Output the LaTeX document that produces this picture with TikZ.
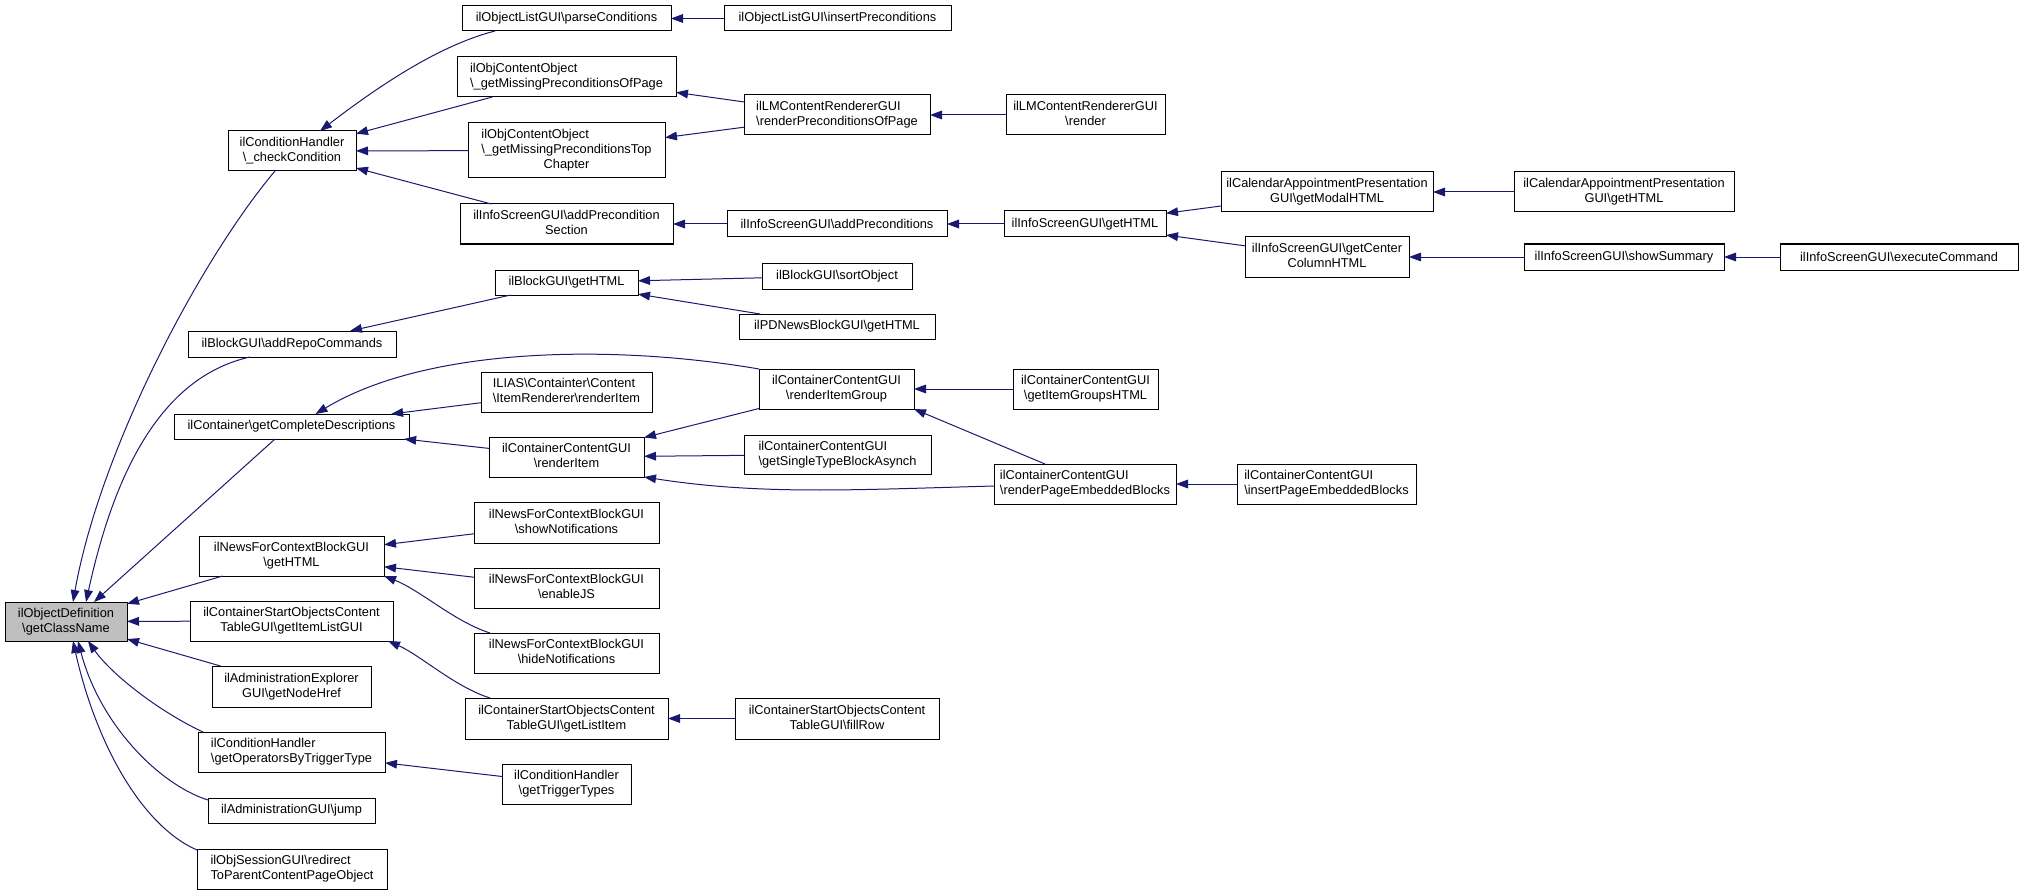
\documentclass[tikz,border=0pt]{standalone}
\usepackage{fontspec}
\setmainfont{Liberation Sans}
\usetikzlibrary{calc,arrows.meta}
\definecolor{edgeblue}{HTML}{191970}
\definecolor{rootgray}{HTML}{BFBFBF}
\newcommand{\bsl}{\textbackslash}
\newcommand{\lastc}[1]{\multicolumn{1}{@{}c@{}}{#1}}
\newcommand{\twol}[2]{\begin{tabular}{@{}l@{}}#1\\\lastc{#2}\end{tabular}}
\newcommand{\threel}[3]{\begin{tabular}{@{}l@{}}#1\\#2\\\lastc{#3}\end{tabular}}
\newcommand{\dxbox}[7][]{%
  \pgfmathsetmacro\bxcx{(#3+#5)/2}\pgfmathsetmacro\bxcy{(#4+#6)/2}%
  \pgfmathsetmacro\bxw{(#5-#3)*0.75}\pgfmathsetmacro\bxh{(#6-#4)*0.75}%
  \node[nd,#1,minimum width=\bxw pt,minimum height=\bxh pt] (#2) at (\bxcx,\bxcy) {#7};}
\begin{document}
\begin{tikzpicture}[x=0.75pt,y=-0.75pt,
  nd/.style={draw=black,fill=white,line width=0.75pt,inner sep=0pt,outer sep=0pt,
    font=\fontsize{9.6}{11.25}\selectfont},
  rootnd/.style={fill=rootgray},
  edge/.style={draw=edgeblue,line width=0.75pt,-{Triangle[length=9pt,width=6.5pt]}}]
\useasboundingbox (0,0) rectangle (2021,895);
% column 1
\dxbox[rootnd]{gcn}{5}{602}{127}{641}{\twol{ilObjectDefinition}{\bsl getClassName}}
% column 2
\dxbox{cc}{228}{131}{356}{171}{\twol{ilConditionHandler}{\bsl\_checkCondition}}
\dxbox{arc}{188}{331}{396}{357}{ilBlockGUI\bsl addRepoCommands}
\dxbox{gcd}{174}{414}{409}{439}{ilContainer\bsl getCompleteDescriptions}
\dxbox{nfc}{199}{536}{384}{576}{\twol{ilNewsForContextBlockGUI}{\bsl getHTML}}
\dxbox{gil}{190}{601}{393}{641}{\twol{ilContainerStartObjectsContent}{TableGUI\bsl getItemListGUI}}
\dxbox{ae}{212}{666}{371}{707}{\twol{ilAdministrationExplorer}{GUI\bsl getNodeHref}}
\dxbox{gop}{198}{732}{385}{772}{\twol{ilConditionHandler}{\bsl getOperatorsByTriggerType}}
\dxbox{jmp}{208}{798}{375}{823}{ilAdministrationGUI\bsl jump}
\dxbox{osg}{197}{849}{387}{889}{\twol{ilObjSessionGUI\bsl redirect}{ToParentContentPageObject}}
% column 3
\dxbox{pc}{462}{6}{671}{31}{ilObjectListGUI\bsl parseConditions}
\dxbox{gmp}{457}{57}{676}{97}{\twol{ilObjContentObject}{\bsl\_getMissingPreconditionsOfPage}}
\dxbox{gtc}{468}{123}{665}{178}{\threel{ilObjContentObject}{\bsl\_getMissingPreconditionsTop}{Chapter}}
\dxbox{aps}{460}{204}{673}{244}{\twol{ilInfoScreenGUI\bsl addPrecondition}{Section}}
\dxbox{bgh}{495}{270}{638}{295}{ilBlockGUI\bsl getHTML}
\dxbox{ilr}{481}{372}{652}{412}{\twol{ILIAS\bsl Containter\bsl Content}{\bsl ItemRenderer\bsl renderItem}}
\dxbox{cri}{489}{437}{644}{477}{\twol{ilContainerContentGUI}{\bsl renderItem}}
\dxbox{sn}{474}{502}{659}{543}{\twol{ilNewsForContextBlockGUI}{\bsl showNotifications}}
\dxbox{ejs}{474}{568}{659}{608}{\twol{ilNewsForContextBlockGUI}{\bsl enableJS}}
\dxbox{hn}{474}{633}{659}{673}{\twol{ilNewsForContextBlockGUI}{\bsl hideNotifications}}
\dxbox{gli}{465}{698}{668}{739}{\twol{ilContainerStartObjectsContent}{TableGUI\bsl getListItem}}
\dxbox{gtt}{502}{764}{631}{804}{\twol{ilConditionHandler}{\bsl getTriggerTypes}}
% column 4
\dxbox{ip}{724}{6}{951}{31}{ilObjectListGUI\bsl insertPreconditions}
\dxbox{rpp}{744}{95}{930}{135}{\twol{ilLMContentRendererGUI}{\bsl renderPreconditionsOfPage}}
\dxbox{ap}{727}{211}{947}{237}{ilInfoScreenGUI\bsl addPreconditions}
\dxbox{so}{762}{263}{912}{289}{ilBlockGUI\bsl sortObject}
\dxbox{pdn}{739}{314}{935}{339}{ilPDNewsBlockGUI\bsl getHTML}
\dxbox{rig}{759}{369}{914}{409}{\twol{ilContainerContentGUI}{\bsl renderItemGroup}}
\dxbox{gstb}{744}{435}{931}{474}{\twol{ilContainerContentGUI}{\bsl getSingleTypeBlockAsynch}}
\dxbox{rpeb}{994}{464}{1176}{504}{\twol{ilContainerContentGUI}{\bsl renderPageEmbeddedBlocks}}
\dxbox{fr}{735}{698}{939}{739}{\twol{ilContainerStartObjectsContent}{TableGUI\bsl fillRow}}
% column 5+
\dxbox{lmr}{1006}{95}{1165}{135}{\twol{ilLMContentRendererGUI}{\bsl render}}
\dxbox{isg}{1004}{211}{1166}{237}{ilInfoScreenGUI\bsl getHTML}
\dxbox{gigh}{1013}{369}{1158}{409}{\twol{ilContainerContentGUI}{\bsl getItemGroupsHTML}}
\dxbox{ipeb}{1237}{464}{1416}{504}{\twol{ilContainerContentGUI}{\bsl insertPageEmbeddedBlocks}}
\dxbox{cmh}{1221}{172}{1433}{212}{\twol{ilCalendarAppointmentPresentation}{GUI\bsl getModalHTML}}
\dxbox{gcc}{1245}{237}{1409}{277}{\twol{ilInfoScreenGUI\bsl getCenter}{ColumnHTML}}
\dxbox{cgh}{1514}{172}{1734}{212}{\twol{ilCalendarAppointmentPresentation}{GUI\bsl getHTML}}
\dxbox{ss}{1524}{244}{1724}{270}{ilInfoScreenGUI\bsl showSummary}
\dxbox{ec}{1780}{244}{2018}{270}{ilInfoScreenGUI\bsl executeCommand}
% edges into root
\draw[edge] ($(cc.south)+(-17,0)$) .. controls (200,260) and (100,450) .. ($(gcn.north)+(7,0)$);
\draw[edge] ($(arc.south)+(-42,0)$) .. controls (170,375) and (118,455) .. ($(gcn.north)+(20,0)$);
\draw[edge] ($(gcd.south)+(-16.5,0)$) -- ($(gcn.north)+(28,0)$);
\draw[edge] (nfc) -- (gcn);
\draw[edge] (gil) -- (gcn);
\draw[edge] (ae) -- (gcn);
\draw[edge] ($(gop.north west)+(5,0)$) .. controls (160,712) and (112,675) .. ($(gcn.south)+(22,0)$);
\draw[edge] ($(jmp.north west)+(0,2)$) .. controls (160,785) and (100,725) .. ($(gcn.south)+(12,0)$);
\draw[edge] ($(osg.north west)+(0,1)$) .. controls (140,825) and (95,740) .. ($(gcn.south)+(7,0)$);
% edges into checkCondition
\draw[edge] ($(pc.south)+(-71.5,0)$) .. controls (440,45) and (380,85) .. ($(cc.north)+(28,0)$);
\draw[edge] (gmp) -- (cc);
\draw[edge] (gtc) -- (cc);
\draw[edge] (aps) -- (cc);
\draw[edge] (ip) -- (pc);
\draw[edge] (rpp) -- (gmp);
\draw[edge] (rpp) -- (gtc);
\draw[edge] (lmr) -- (rpp);
\draw[edge] (ap) -- (aps);
\draw[edge] (isg) -- (ap);
\draw[edge] (cmh) -- (isg);
\draw[edge] (gcc) -- (isg);
\draw[edge] (cgh) -- (cmh);
\draw[edge] (ss) -- (gcc);
\draw[edge] (ec) -- (ss);
% block GUI
\draw[edge] (bgh) -- (arc);
\draw[edge] (so) -- (bgh);
\draw[edge] (pdn) -- (bgh);
% container content
\draw[edge] (rig.north west) .. controls (620,345) and (430,345) .. ($(gcd.north)+(24,0)$);
\draw[edge] (ilr) -- (gcd);
\draw[edge] (cri) -- (gcd);
\draw[edge] (rig) -- (cri);
\draw[edge] (gstb) -- (cri);
\draw[edge] ($(rpeb.west)+(0,2)$) .. controls (850,490) and (760,495) .. (cri.south east);
\draw[edge] (gigh) -- (rig);
\draw[edge] ($(rpeb.north)+(-40,0)$) -- (rig.south east);
\draw[edge] (ipeb) -- (rpeb);
% news
\draw[edge] (sn) -- (nfc);
\draw[edge] (ejs) -- (nfc);
\draw[edge] ($(hn.north)+(-76.5,0)$) .. controls (455,622) and (420,590) .. (nfc.south east);
% start objects
\draw[edge] ($(gli.north)+(-76.5,0)$) .. controls (455,687) and (420,655) .. ($(gil.south east)+(-5,0)$);
\draw[edge] (fr) -- (gli);
\draw[edge] (gtt) -- (gop);
\end{tikzpicture}
\end{document}
